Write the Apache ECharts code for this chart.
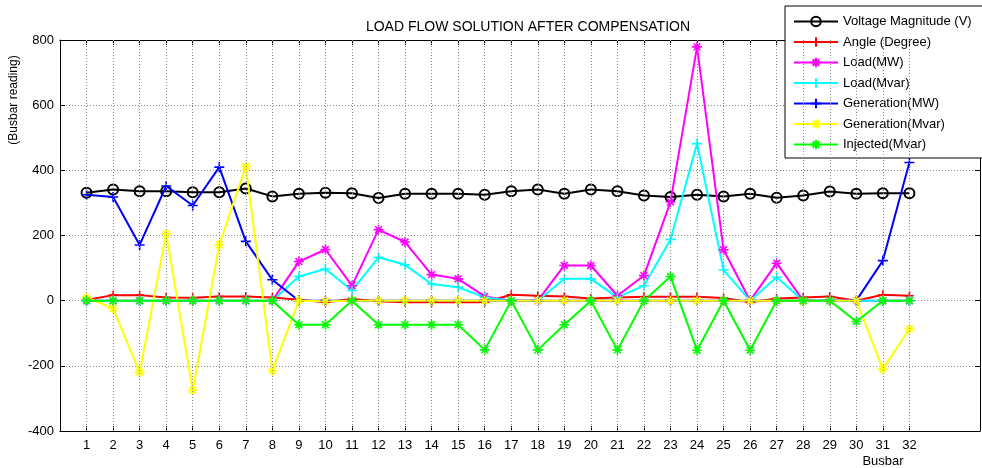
<!DOCTYPE html>
<html>
<head>
<meta charset="utf-8">
<script src="https://cdn.jsdelivr.net/npm/echarts@6/dist/echarts.min.js"></script>
<style>
  html, body { margin: 0; padding: 0; background: #fff; }
  #chart { width: 982px; height: 468px; }
</style>
</head>
<body>
<div id="chart"></div>
<script>
// Bus numbers along the x axis
const buses = [1, 2, 3, 4, 5, 6, 7, 8, 9, 10, 11, 12, 13, 14, 15, 16,
               17, 18, 19, 20, 21, 22, 23, 24, 25, 26, 27, 28, 29, 30, 31, 32];

// Readings per bus
const voltageMagnitude = [331, 341, 336, 336, 333, 333, 344, 320, 328, 331, 330, 315, 328, 328, 328, 325,
                          336, 341, 328, 341, 336, 323, 318, 325, 320, 328, 316, 323, 335, 328, 330, 330];
const angleDeg = [2, 17, 17, 10, 9, 13, 13, 10, 3, -5, 5, -2, -5, -5, -5, -5,
                  18, 15, 13, 7, 10, 12, 12, 12, 8, -5, 7, 10, 13, 0, 18, 15];
const loadMW = [0, 0, 0, 0, 0, 0, 0, 0, 120, 157, 46, 218, 180, 80, 67, 13,
                0, 0, 108, 108, 15, 77, 303, 779, 156, 0, 115, 0, 0, 0, 0, 0];
const loadMvar = [0, 0, 0, 0, 0, 0, 0, 0, 74, 97, 31, 133, 110, 51, 41, 10,
                  0, 0, 67, 67, 10, 46, 188, 482, 94, 0, 72, 0, 0, 0, 0, 0];
const generationMW = [325, 318, 171, 352, 292, 410, 182, 64, 0, 0, 0, 0, 0, 0, 0, 0,
                      0, 0, 0, 0, 0, 0, 0, 0, 0, 0, 0, 0, 0, 0, 123, 424];
const generationMvar = [10, -24, -220, 205, -275, 171, 412, -215, 0, -2, 0, 0, 0, 0, 0, 0,
                        0, 0, 0, 0, 0, 0, 0, 0, 0, 0, 0, 0, 0, 0, -210, -87];
const injectedMvar = [0, 0, 0, 0, 0, 0, 0, 0, -74, -74, 0, -74, -74, -74, -74, -151,
                      0, -151, -74, 0, -151, 0, 74, -152, 0, -152, 0, 0, 0, -64, 0, 0];

// Axis ticks
const yTicks = { min: -400, max: 800, step: 200 };
const xRange = { min: 0, max: 34.66 };

const FONT = '"Liberation Sans", Arial, sans-serif';
const plusPath = 'path://M0,5L10,5M5,0L5,10';
const starPath = 'path://M0,5L10,5M5,0L5,10M1.6,1.6L8.4,8.4M1.6,8.4L8.4,1.6';
const gridColor = '#8c8c8c';

function pairs(values) {
  return buses.map((b, i) => [b, values[i]]);
}

function lineSeries(name, values, color, symbol, size) {
  const hollow = symbol === 'circle';
  return {
    name: name,
    type: 'line',
    data: pairs(values),
    symbol: symbol,
    symbolSize: size,
    symbolKeepAspect: true,
    showAllSymbol: true,
    lineStyle: { color: color, width: 2 },
    itemStyle: {
      color: hollow ? 'rgba(0,0,0,0)' : color,
      borderColor: color,
      borderWidth: hollow ? 2 : 1.6
    },
    emphasis: { disabled: true },
    animation: false
  };
}

const series = [
  lineSeries('Voltage Magnitude (V)', voltageMagnitude, '#000000', 'circle', 10),
  lineSeries('Angle (Degree)', angleDeg, '#ff0000', plusPath, 9),
  lineSeries('Load(MW)', loadMW, '#ff00ff', starPath, 10),
  lineSeries('Load(Mvar)', loadMvar, '#00ffff', plusPath, 10),
  lineSeries('Generation(MW)', generationMW, '#0000ff', plusPath, 10),
  lineSeries('Generation(Mvar)', generationMvar, '#ffff00', starPath, 10),
  lineSeries('Injected(Mvar)', injectedMvar, '#00ff00', starPath, 10)
];

// Vertical dotted grid at each bus, drawn beneath the data
series[0].markLine = {
  silent: true,
  symbol: 'none',
  animation: false,
  label: { show: false },
  lineStyle: { color: gridColor, width: 1, type: [1, 2] },
  data: buses.map(b => ({ xAxis: b }))
};
series[0].z = 1;

const axisLineStyle = { show: true, onZero: false, lineStyle: { color: '#000', width: 1 } };

const chart = echarts.init(document.getElementById('chart'), null, { renderer: 'canvas' });
chart.setOption({
  backgroundColor: '#ffffff',
  animation: false,
  title: {
    text: 'LOAD FLOW SOLUTION AFTER COMPENSATION',
    left: 523, top: 15, textAlign: 'center',
    textStyle: { fontFamily: FONT, fontSize: 14, fontWeight: 'normal', color: '#000' }
  },
  grid: { left: 60, right: 2, top: 40, bottom: 37, containLabel: false },
  legend: {
    orient: 'vertical',
    left: 785, top: 6,
    padding: [9, 30, 7, 8],
    itemWidth: 44, itemHeight: 12, itemGap: 7.5,
    backgroundColor: '#ffffff',
    borderColor: '#000', borderWidth: 1, borderRadius: 0,
    textStyle: { fontFamily: FONT, fontSize: 13, color: '#000' },
    selectedMode: false,
    data: series.map(s => s.name)
  },
  xAxis: [
    {
      type: 'value', min: xRange.min, max: xRange.max, position: 'bottom',
      axisLine: axisLineStyle,
      axisTick: { show: true, inside: true, length: 5, customValues: buses, lineStyle: { color: '#000' } },
      axisLabel: { show: true, customValues: buses, margin: 8, color: '#000', fontFamily: FONT, fontSize: 13 },
      splitLine: { show: false }
    },
    {
      type: 'value', min: xRange.min, max: xRange.max, position: 'top',
      axisLine: axisLineStyle,
      axisTick: { show: true, inside: true, length: 5, customValues: buses, lineStyle: { color: '#000' } },
      axisLabel: { show: false },
      splitLine: { show: false }
    }
  ],
  yAxis: [
    {
      type: 'value', min: yTicks.min, max: yTicks.max, interval: yTicks.step, position: 'left',
      axisLine: axisLineStyle,
      axisTick: { show: true, inside: true, length: 5, lineStyle: { color: '#000' } },
      axisLabel: { margin: 6, color: '#000', fontFamily: FONT, fontSize: 13 },
      splitLine: { show: true, lineStyle: { color: gridColor, width: 1, type: [1, 2] } }
    },
    {
      type: 'value', min: yTicks.min, max: yTicks.max, interval: yTicks.step, position: 'right',
      axisLine: axisLineStyle,
      axisTick: { show: true, inside: true, length: 5, lineStyle: { color: '#000' } },
      axisLabel: { show: false },
      splitLine: { show: false }
    }
  ],
  graphic: [
    {
      type: 'text', x: 14, y: 100, rotation: Math.PI / 2,
      style: { text: '(Busbar reading)', fill: '#000', font: '12px ' + FONT, align: 'center', verticalAlign: 'middle' }
    },
    {
      type: 'text', x: 883, y: 461,
      style: { text: 'Busbar', fill: '#000', font: '13px ' + FONT, align: 'center', verticalAlign: 'middle' }
    }
  ],
  series: series
});
</script>
</body>
</html>
